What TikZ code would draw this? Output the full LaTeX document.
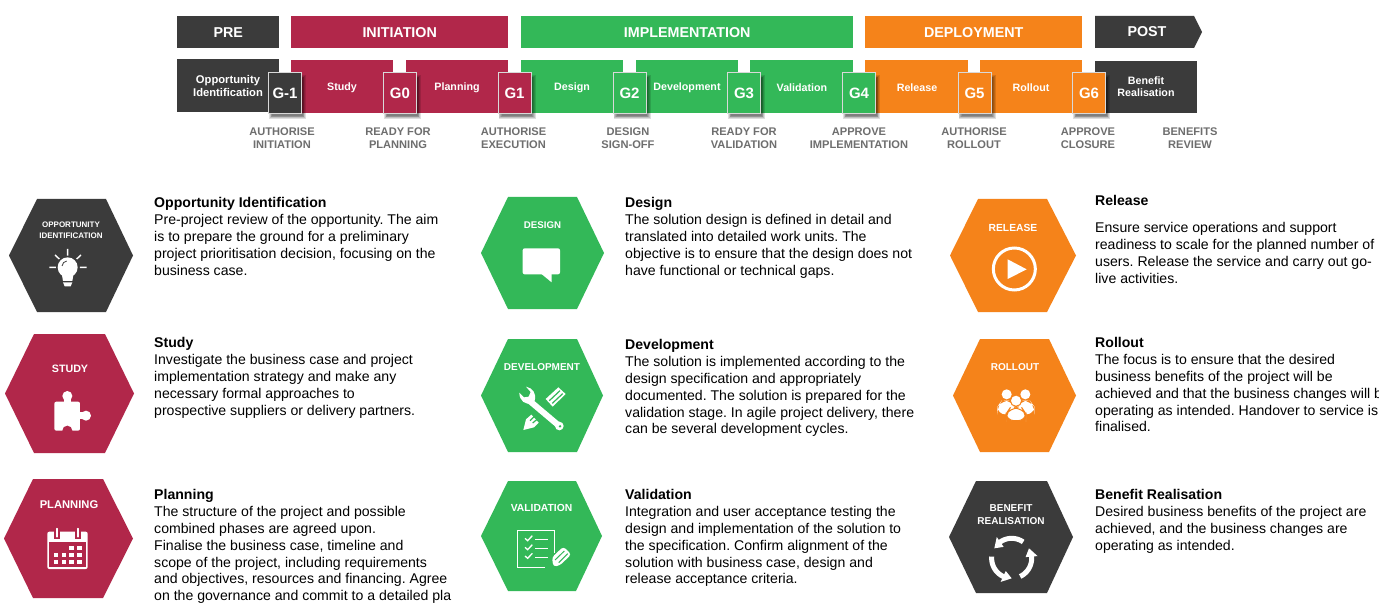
\documentclass[tikz,border=0pt]{standalone}
\usepackage{fontspec}
\setmainfont{Liberation Sans}
\definecolor{cdark}{HTML}{3B3B3B}
\definecolor{cred}{HTML}{B1274A}
\definecolor{cgreen}{HTML}{33B858}
\definecolor{corange}{HTML}{F5831A}
\definecolor{clabel}{HTML}{6E6E6E}
\newcommand{\fs}[1]{\fontsize{#1}{#1}\selectfont}
\newcommand{\ls}{\\[2.8pt]}
\frenchspacing
\tikzset{
  barbox/.style={minimum height=32pt,inner sep=0pt,text=white,font=\bfseries\fs{14.3},anchor=north west},
  subbox/.style={inner sep=0pt,text=white,font=\bfseries\fs{10.7},align=center},
  gatebox/.style={draw=white!85!black,line width=1pt,minimum width=33pt,minimum height=41pt,inner sep=0pt,text=white,font=\bfseries\fs{15},anchor=north west},
  gatelabel/.style={text=clabel,font=\bfseries\fs{11.1},align=center,inner sep=0pt},
  hexlabel/.style={text=white,font=\bfseries\fs{10},align=center,inner sep=0pt},
  bodytext/.style={anchor=north west,inner sep=0pt,align=left,text=black,font=\fs{14.1}},
  zoomed/.style={x=1/3*1pt,y=-1/3*1pt},
}
\begin{document}
\begin{tikzpicture}[x=1pt,y=-1pt]
\useasboundingbox (0,0) rectangle (1379,604);
\clip (0,0) rectangle (1379,604);
\fill[white] (0,0) rectangle (1379,604);
% top bars
\node[barbox,fill=cdark,minimum width=102pt] (pre) at (177,16) {PRE};
\node[barbox,fill=cred,minimum width=217pt] (init) at (291,16) {INITIATION};
\node[barbox,fill=cgreen,minimum width=332pt] (impl) at (521,16) {IMPLEMENTATION};
\node[barbox,fill=corange,minimum width=217pt] (depl) at (865,16) {DEPLOYMENT};
\fill[cdark] (1095,16) -- (1194,16) -- (1202,32) -- (1194,48) -- (1095,48) -- cycle;
\node[text=white,font=\bfseries\fs{14.3},inner sep=0pt] (post) at (1147,31.5) {POST};
% second row
\fill[cdark] (177,59) rectangle (279,112);
\fill[cred] (291,60) rectangle (393,113);
\fill[cred] (406,60) rectangle (508,113);
\fill[cgreen] (521,60) rectangle (623,113);
\fill[cgreen] (636,60) rectangle (738,113);
\fill[cgreen] (750,60) rectangle (853,113);
\fill[corange] (865,60) rectangle (968,113);
\fill[corange] (980,60) rectangle (1082,113);
\fill[cdark] (1095,61) rectangle (1197,113);
\node[subbox,font=\bfseries\fs{11.2}] (sopp) at (228,86) {Opportunity\\[1.5pt]Identification};
\node[subbox] (sstudy) at (342,88) {Study};
\node[subbox] (splan) at (457,88) {Planning};
\node[subbox] (sdes) at (572,88) {Design};
\node[subbox] (sdev) at (687,88) {Development};
\node[subbox] (sval) at (802,88) {Validation};
\node[subbox] (srel) at (917,88) {Release};
\node[subbox] (sroll) at (1031,88) {Rollout};
\node[subbox] (sben) at (1146,87) {Benefit\\[1.5pt]Realisation};
% gate shadows, soft edges from nested layers
\foreach \gx in {268,383,497.5,612.5,727,842,957.5,1072}
  \foreach \k in {0,0.8,1.6,2.4,3.2}
    \fill[black,opacity=.13] (\gx+1+\k,75+\k) rectangle (\gx+38-\k,119-\k);
% gates
\node[gatebox,fill=cdark] (gm1) at (268,72) {G-1};
\node[gatebox,fill=cred] (g0) at (383,72) {G0};
\node[gatebox,fill=cred] (g1) at (497.5,72) {G1};
\node[gatebox,fill=cgreen] (g2) at (612.5,72) {G2};
\node[gatebox,fill=cgreen] (g3) at (727,72) {G3};
\node[gatebox,fill=cgreen] (g4) at (842,72) {G4};
\node[gatebox,fill=corange] (g5) at (957.5,72) {G5};
\node[gatebox,fill=corange] (g6) at (1072,72) {G6};
% gate labels
\node[gatelabel] (l1) at (282,138) {AUTHORISE\\[1.5pt]INITIATION};
\node[gatelabel] (l2) at (398,138) {READY FOR\\[1.5pt]PLANNING};
\node[gatelabel] (l3) at (513.5,138) {AUTHORISE\\[1.5pt]EXECUTION};
\node[gatelabel] (l4) at (628,138) {DESIGN\\[1.5pt]SIGN-OFF};
\node[gatelabel] (l5) at (744,138) {READY FOR\\[1.5pt]VALIDATION};
\node[gatelabel] (l6) at (859,138) {APPROVE\\[1.5pt]IMPLEMENTATION};
\node[gatelabel] (l7) at (974,138) {AUTHORISE\\[1.5pt]ROLLOUT};
\node[gatelabel] (l8) at (1088,138) {APPROVE\\[1.5pt]CLOSURE};
\node[gatelabel] (l9) at (1190,138) {BENEFITS\\[1.5pt]REVIEW};
% hexagons
\fill[cdark] (37,199) -- (106,199) -- (133,255.5) -- (106,312) -- (37,312) -- (9,255.5) -- cycle;
\fill[cred] (34,334) -- (105,334) -- (134,393.5) -- (105,453) -- (34,453) -- (5,393.5) -- cycle;
\fill[cred] (33,479) -- (103,479) -- (133,538.5) -- (103,598) -- (33,598) -- (4,538.5) -- cycle;
\fill[cgreen] (508,197) -- (577,197) -- (604,253) -- (577,309) -- (508,309) -- (481,253) -- cycle;
\fill[cgreen] (508,339) -- (577,339) -- (603,395.5) -- (577,452) -- (508,452) -- (481,395.5) -- cycle;
\fill[cgreen] (508,481) -- (576,481) -- (602,536) -- (576,591) -- (508,591) -- (481,536) -- cycle;
\fill[corange] (978,199) -- (1047,199) -- (1076,255.5) -- (1047,312) -- (978,312) -- (950,255.5) -- cycle;
\fill[corange] (980,339) -- (1049,339) -- (1076,395.5) -- (1049,452) -- (980,452) -- (953,395.5) -- cycle;
\fill[cdark] (976,481) -- (1047,481) -- (1073,537) -- (1047,593) -- (976,593) -- (949,537) -- cycle;
% hexagon labels
\node[hexlabel,font=\bfseries\fs{8}] (h1) at (71,230.5) {OPPORTUNITY\\[3pt]IDENTIFICATION};
\node[hexlabel,font=\bfseries\fs{10.7}] (h2) at (70,369) {STUDY};
\node[hexlabel,font=\bfseries\fs{11.2}] (h3) at (69,505) {PLANNING};
\node[hexlabel,font=\bfseries\fs{9.7}] (h4) at (542.5,225.5) {DESIGN};
\node[hexlabel] (h5) at (542,367.5) {DEVELOPMENT};
\node[hexlabel,font=\bfseries\fs{10.3}] (h6) at (541.5,508) {VALIDATION};
\node[hexlabel,font=\bfseries\fs{10.3}] (h7) at (1013,227.5) {RELEASE};
\node[hexlabel] (h8) at (1015,367.5) {ROLLOUT};
\node[hexlabel] (h9) at (1011,515) {BENEFIT\\[3pt]REALISATION};
% body text
\node[bodytext] (t1) at (154,197) {\textbf{Opportunity Identification}\ls Pre-project review of the opportunity. The aim\ls is to prepare the ground for a preliminary\ls project prioritisation decision, focusing on the\ls business case.};
\node[bodytext] (t2) at (154,337) {\textbf{Study}\ls Investigate the business case and project\ls implementation strategy and make any\ls necessary formal approaches to\ls prospective suppliers or delivery partners.};
\node[bodytext] (t3) at (154,489) {\textbf{Planning}\ls The structure of the project and possible\ls combined phases are agreed upon.\ls Finalise the business case, timeline and\ls scope of the project, including requirements\ls and objectives, resources and financing. Agree\ls on the governance and commit to a detailed pla};
\node[bodytext] (t4) at (625,197) {\textbf{Design}\ls The solution design is defined in detail and\ls translated into detailed work units. The\ls objective is to ensure that the design does not\ls have functional or technical gaps.};
\node[bodytext] (t5) at (625,339) {\textbf{Development}\ls The solution is implemented according to the\ls design specification and appropriately\ls documented. The solution is prepared for the\ls validation stage. In agile project delivery, there\ls can be several development cycles.};
\node[bodytext] (t6) at (625,489) {\textbf{Validation}\ls Integration and user acceptance testing the\ls design and implementation of the solution to\ls the specification. Confirm alignment of the\ls solution with business case, design and\ls release acceptance criteria.};
\node[bodytext] (t7a) at (1095,195) {\textbf{Release}};
\node[bodytext] (t7) at (1095,222) {Ensure service operations and support\ls readiness to scale for the planned number of\ls users. Release the service and carry out go-\ls live activities.};
\node[bodytext] (t8) at (1095,337) {\textbf{Rollout}\ls The focus is to ensure that the desired\ls business benefits of the project will be\ls achieved and that the business changes will b\ls operating as intended. Handover to service is\ls finalised.};
\node[bodytext] (t9) at (1095,489) {\textbf{Benefit Realisation}\ls Desired business benefits of the project are\ls achieved, and the business changes are\ls operating as intended.};
% --- icons, group 1 (origin 0,180, zoom 3) ---
\begin{scope}[zoomed,yshift=-180pt]
% bulb
\fill[white] (203,262) circle (30);
\fill[white] (185,280) -- (221,280) -- (217,303) -- (189,303) -- cycle;
\fill[white] (189,307) -- (217,307) -- (212,319) -- (194,319) -- cycle;
\draw[cdark,line width=.8pt] (186,258) .. controls (187,250) and (193,244) .. (200,243);
\draw[white,line width=1.4pt] (203,207) -- (203,227) (148,262) -- (168,262) (240,262) -- (260,262) (165,225) -- (178,237) (243,225) -- (230,237);
% puzzle
\fill[white,rounded corners=2pt] (163,665) rectangle (240,752);
\fill[white] (202,648) circle (15);
\fill[white] (258,707) circle (15);
\fill[white] (192,650) rectangle (212,670);
\fill[white] (235,697) rectangle (255,717);
\fill[cred] (202,752) circle (15);
\end{scope}
% calendar (origin 40,520)
\begin{scope}[zoomed,xshift=40pt,yshift=-520pt]
\fill[white,rounded corners=2pt] (22,35) rectangle (143,147);
\fill[cred] (28,65) rectangle (137,141);
\foreach \cx in {52,115} {
  \fill[cred] (\cx-9,20) rectangle (\cx+9,58);
  \draw[white,line width=1.8pt,line cap=round] (\cx,26) -- (\cx,50);
}
\foreach \cx/\cy in {95/83,118/83,48/105,72/105,95/105,118/105,48/125,72/125,95/125,118/125}
  \fill[white] (\cx-7,\cy-6) rectangle (\cx+7,\cy+6);
\end{scope}
% group 2 icons
\begin{scope}[zoomed,xshift=470pt,yshift=-180pt]
\fill[white,rounded corners=2pt] (158,205) rectangle (270,283);
\fill[white] (212,280) -- (245,307) -- (245,280) -- cycle;
\end{scope}
% tools (origin 510,380)
\begin{scope}[zoomed,xshift=510pt,yshift=-380pt]
\fill[white] (107,57) -- (145,22) -- (167,42) -- (128,80) -- cycle;
\draw[cgreen,line width=1.2pt] (118,62) -- (150,32) (127,70) -- (158,41);
\fill[white] (40,150) -- (48,118) -- (64,104) -- (86,128) -- (72,142) -- cycle;
\draw[cgreen,line width=1.2pt] (60,122) -- (72,110) (68,129) -- (80,119);
\draw[cgreen,line width=9pt] (58,62) -- (148,138);
\draw[white,line width=6pt,line cap=round] (58,62) -- (148,138);
\fill[white] (148,138) circle (13);
\fill[cgreen] (150,139) circle (4);
\fill[white] (28,38) .. controls (28,62) and (45,76) .. (68,70) -- (74,62) .. controls (80,40) and (68,24) .. (48,20) -- (62,36) -- (56,50) -- (42,52) -- cycle;
\end{scope}
% checklist (origin 510,520)
\begin{scope}[zoomed,xshift=510pt,yshift=-520pt]
\draw[white,line width=1.2pt] (105,143) -- (22,143) -- (22,32) -- (133,32) -- (133,100);
\foreach \ty in {55,82,108} {
  \draw[white,line width=1.3pt] (45,\ty) -- (53,\ty+7) -- (67,\ty-8);
  \draw[white,line width=1.3pt] (75,\ty+4) -- (113,\ty+4);
}
\fill[white,rounded corners=3pt] (126,112) -- (160,80) -- (184,103) -- (150,136) -- (130,140) -- cycle;
\draw[cgreen,line width=1pt] (135,120) -- (163,93) (146,128) -- (173,101);
\end{scope}
% play (group 3 origin 940,180)
\begin{scope}[zoomed,xshift=940pt,yshift=-180pt]
\draw[white,line width=3pt] (223,267) circle (63);
\fill[white] (203,238) -- (260,268) -- (203,297) -- cycle;
% people
\fill[white] (200,643) circle (15);
\fill[white] (256,643) circle (15);
\fill[white,rounded corners=8pt] (172,703) -- (172,680) -- (185,662) -- (215,662) -- (225,680) -- (225,703) -- cycle;
\fill[white,rounded corners=8pt] (232,703) -- (232,680) -- (242,662) -- (270,662) -- (283,680) -- (283,703) -- cycle;
\draw[corange,line width=1pt,fill=white] (228,662) circle (17);
\draw[corange,line width=1pt,fill=white,rounded corners=8pt] (198,722) -- (198,702) -- (210,684) -- (246,684) -- (258,702) -- (258,722) -- cycle;
\end{scope}
% cycle arrows (origin 980,530)
\begin{scope}[zoomed,xshift=980pt,yshift=-530pt]
\foreach \a in {55,-65,175} {
  \draw[white,line width=5pt] plot[domain=\a:\a+72,samples=16] ({95+60*cos(\x)},{85-60*sin(\x)});
  \fill[white] ({95+42*cos(\a+70)},{85-42*sin(\a+70)}) -- ({95+78*cos(\a+70)},{85-78*sin(\a+70)}) -- ({95+60*cos(\a+95)},{85-60*sin(\a+95)}) -- cycle;
}
\end{scope}
\end{tikzpicture}
\end{document}
